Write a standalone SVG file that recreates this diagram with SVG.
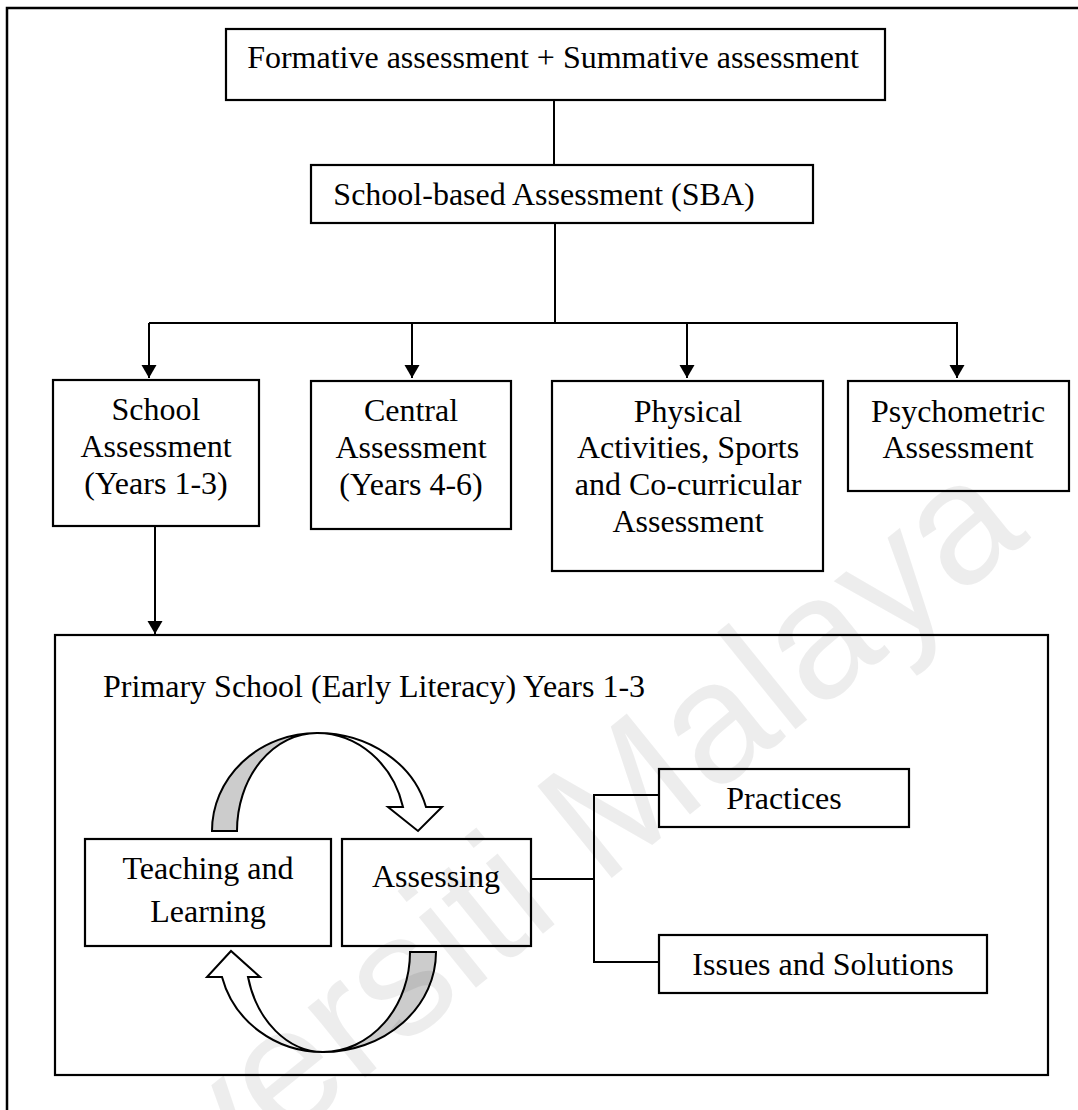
<svg xmlns="http://www.w3.org/2000/svg" width="1078" height="1110" viewBox="0 0 1078 1110">
<style>
.box{fill:#fff;stroke:#000;stroke-width:2.2}
.t{font-family:"Liberation Serif","Times New Roman",serif;font-size:32px;fill:#000;text-anchor:middle}
.tl{font-family:"Liberation Serif","Times New Roman",serif;font-size:32px;fill:#000}
.ln{fill:none;stroke:#000;stroke-width:2}
.wm{font-family:"Liberation Sans",Arial,sans-serif;font-size:172px;fill:#000;fill-opacity:0.07}
</style>
<defs>
<marker id="ah" markerUnits="userSpaceOnUse" markerWidth="14" markerHeight="16" refX="13" refY="7.5" orient="auto">
<path d="M0,0 L13,7.5 L0,15 Z" fill="#000"/>
</marker>
</defs>
<rect x="0" y="0" width="1078" height="1110" fill="#fff"/>
<rect x="7" y="8" width="1100" height="1200" fill="none" stroke="#000" stroke-width="2.5"/>

<g id="connectors">
<line class="ln" x1="554" y1="100" x2="554" y2="165"/>
<line class="ln" x1="555" y1="224" x2="555" y2="323"/>
<line class="ln" x1="149" y1="323" x2="957" y2="323"/>
<line class="ln" x1="149" y1="323" x2="149" y2="378" marker-end="url(#ah)"/>
<line class="ln" x1="412" y1="323" x2="412" y2="378" marker-end="url(#ah)"/>
<line class="ln" x1="687" y1="323" x2="687" y2="378" marker-end="url(#ah)"/>
<line class="ln" x1="957" y1="322" x2="957" y2="378" marker-end="url(#ah)"/>
<line class="ln" x1="155" y1="527" x2="155" y2="634" marker-end="url(#ah)"/>
<line class="ln" x1="531" y1="879" x2="594" y2="879"/>
<polyline class="ln" points="659,795 594,795 594,962 659,962"/>
<g id="cycle-top" stroke="#000" stroke-width="2" stroke-linejoin="miter">
<path d="M212,831 A105,98 0 0 1 317,733 A80,98 0 0 0 237,831 Z" fill="#cccccc"/>
<path d="M317,733 A112,98 0 0 1 426,807 L442,807 L418,831 L388,807 L403,807 A89,98 0 0 0 317,733 Z" fill="#fff"/>
</g>
<g id="cycle-bottom" stroke="#000" stroke-width="2" stroke-linejoin="miter">
<path d="M436,952 A113,100 0 0 1 323,1052 A87,100 0 0 0 410,952 Z" fill="#cccccc"/>
<path d="M323,1052 A104,100 0 0 1 222,977 L207,977 L231,951 L260,977 L248,977 A78,100 0 0 0 323,1052 Z" fill="#fff"/>
</g>
</g>

<g id="n-top">
<rect class="box" x="226" y="29" width="659" height="71"/>
<text class="t" x="553" y="68">Formative assessment + Summative assessment</text>
</g>
<g id="n-sba">
<rect class="box" x="311" y="165" width="502" height="58"/>
<text class="t" x="544" y="205">School-based Assessment (SBA)</text>
</g>
<g id="n-school">
<rect class="box" x="53" y="380" width="206" height="146"/>
<text class="t" x="156" y="420">School</text>
<text class="t" x="156" y="457">Assessment</text>
<text class="t" x="156" y="494">(Years 1-3)</text>
</g>
<g id="n-central">
<rect class="box" x="311" y="381" width="200" height="148"/>
<text class="t" x="411" y="421">Central</text>
<text class="t" x="411" y="458">Assessment</text>
<text class="t" x="411" y="495">(Years 4-6)</text>
</g>
<g id="n-physical">
<rect class="box" x="552" y="381" width="271" height="190"/>
<text class="t" x="688" y="422">Physical</text>
<text class="t" x="688" y="458">Activities, Sports</text>
<text class="t" x="688" y="495">and Co-curricular</text>
<text class="t" x="688" y="532">Assessment</text>
</g>
<g id="n-psycho">
<rect class="box" x="848" y="381" width="221" height="110"/>
<text class="t" x="958" y="422">Psychometric</text>
<text class="t" x="958" y="458">Assessment</text>
</g>
<g id="n-primary">
<rect class="box" x="55" y="635" width="993" height="440" style="fill:none"/>
<text class="tl" x="103" y="697">Primary School (Early Literacy) Years 1-3</text>
</g>
<g id="n-teaching">
<rect class="box" x="85" y="839" width="246" height="107"/>
<text class="t" x="208" y="879">Teaching and</text>
<text class="t" x="208" y="922">Learning</text>
</g>
<g id="n-assessing">
<rect class="box" x="342" y="839" width="189" height="107"/>
<text class="t" x="436" y="887">Assessing</text>
</g>
<g id="n-practices">
<rect class="box" x="659" y="769" width="250" height="58"/>
<text class="t" x="784" y="809">Practices</text>
</g>
<g id="n-issues">
<rect class="box" x="659" y="935" width="328" height="58"/>
<text class="t" x="823" y="975">Issues and Solutions</text>
</g>
<text class="wm" transform="translate(14,1362) rotate(-39)">Universiti Malaya</text>
</svg>
